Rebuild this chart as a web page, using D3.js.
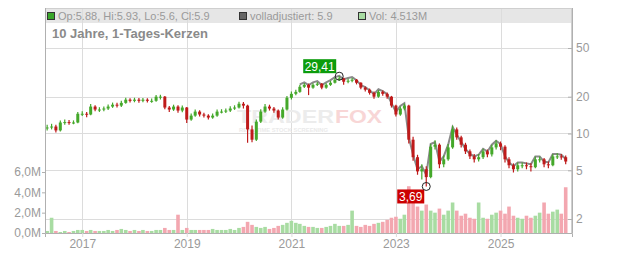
<!DOCTYPE html>
<html>
<head>
<meta charset="utf-8">
<script src="https://cdn.jsdelivr.net/npm/d3@7"></script>
<style>
  body { margin: 0; background: #fff; }
  svg { display: block; font-family: "Liberation Sans", Arial, sans-serif; }
</style>
</head>
<body>
<script>
// monthly candles, May 2016 .. Apr 2026
var months = d3.timeMonth.range(new Date(2016, 4, 1), new Date(2026, 4, 1));

var closes = [
  11.2, 11.4, 10.6, 12.3, 12.4, 12.3, 12.3, 14.5,
  14.5, 14.3, 16.6, 15.7, 15.7, 16.0, 16.6, 17.2, 16.9, 17.8, 18.9, 18.5,
  18.9, 18.5, 18.9, 18.5, 18.5, 20.0, 20.0, 16.3, 15.7, 16.6, 15.4, 16.3,
  13.0, 14.0, 15.1, 14.3, 14.0, 13.5, 14.0, 15.1, 15.1, 15.4, 16.0, 16.3,
  17.5, 16.9, 10.8, 8.9, 12.5, 15.1, 16.6, 16.0, 15.4, 13.5, 15.7, 19.6,
  21.1, 21.9, 24.1, 25.0, 23.7, 25.0, 25.5, 23.7, 25.0, 26.0, 27.5, 28.2,
  26.5, 27.0, 27.5, 26.0, 23.7, 22.8, 21.5, 20.0, 21.9, 21.1, 20.0, 16.9,
  14.3, 16.0, 16.9, 8.9, 6.4, 4.9, 5.1, 4.4, 7.8, 8.1, 5.6, 6.15,
  7.7, 10.8, 9.3, 8.1, 7.15, 6.5, 6.15, 6.4, 7.15, 6.75, 7.7, 8.3,
  7.8, 6.15, 5.5, 5.1, 5.5, 5.5, 5.4, 5.3, 6.15, 6.15, 5.6, 5.5,
  6.5, 6.5, 6.4, 5.9
];
var highs = [
  11.8, 12.0, 11.8, 12.8, 13.0, 12.9, 12.8, 15.0,
  15.2, 15.0, 17.4, 17.0, 16.4, 16.6, 17.3, 17.9, 17.8, 18.5, 19.6, 19.4,
  19.6, 19.5, 19.5, 19.4, 19.3, 20.6, 20.7, 20.3, 16.8, 17.2, 17.0, 16.9,
  16.5, 14.6, 15.7, 15.5, 14.8, 14.4, 14.6, 15.7, 15.8, 16.0, 16.7, 17.0,
  18.2, 18.1, 17.2, 11.6, 13.0, 15.8, 17.4, 17.2, 16.5, 15.7, 16.4, 20.3,
  22.0, 22.8, 25.0, 25.9, 25.6, 25.8, 26.4, 25.9, 25.8, 26.9, 28.5, 29.41,
  28.6, 28.0, 28.4, 27.9, 26.3, 24.2, 23.3, 22.0, 22.6, 22.5, 21.6, 20.3,
  17.2, 16.6, 17.6, 17.2, 9.4, 6.7, 5.6, 5.4, 8.2, 8.8, 8.3, 6.6,
  8.2, 11.6, 11.2, 9.6, 8.4, 7.4, 6.8, 6.8, 7.5, 7.4, 8.1, 8.8,
  8.6, 8.0, 6.4, 5.7, 5.8, 5.8, 5.8, 5.7, 6.5, 6.5, 6.3, 5.9,
  6.8, 6.9, 6.8, 6.6
];
var lows = [
  10.6, 10.8, 10.2, 10.4, 11.8, 11.8, 11.9, 12.1,
  13.9, 13.6, 14.1, 15.2, 15.0, 15.2, 15.6, 16.2, 16.3, 16.5, 17.5, 17.9,
  18.0, 17.8, 18.0, 17.9, 17.8, 18.2, 19.0, 15.8, 15.0, 15.3, 14.8, 14.9,
  12.2, 12.7, 13.7, 13.8, 13.5, 13.0, 13.2, 13.7, 14.6, 14.7, 15.0, 15.6,
  16.0, 16.0, 8.4, 8.5, 8.7, 12.2, 14.8, 15.4, 14.8, 13.0, 13.2, 15.4,
  19.0, 20.5, 21.5, 23.5, 20.6, 23.2, 24.4, 23.0, 23.2, 24.5, 25.6, 27.0,
  25.0, 25.8, 26.2, 25.2, 23.0, 22.0, 20.8, 19.2, 19.6, 20.4, 19.2, 16.3,
  13.8, 14.0, 15.5, 8.3, 6.0, 4.6, 4.2, 3.69, 4.3, 7.4, 5.2, 5.3,
  6.0, 7.5, 8.9, 7.7, 6.8, 6.2, 5.8, 5.9, 6.2, 6.4, 6.5, 7.4,
  7.3, 5.8, 5.2, 4.8, 4.9, 5.2, 5.1, 4.9, 5.2, 5.8, 5.3, 5.2,
  5.4, 6.2, 6.1, 5.6
];
// "volladjustiert" line, only visible from 2021 on
var adjusted = Array(58).fill(null).concat([
  25.2, 26.2, 24.9, 26.2, 26.8, 24.9, 26.2, 27.3, 28.9, 29.6,
  27.8, 28.4, 28.9, 27.3, 24.9, 23.9, 22.6, 21.0, 23.0, 22.2, 21.0, 17.7,
  15.0, 16.8, 17.7, 9.3, 6.7, 5.1, 5.4, 4.6, 8.2, 8.5, 5.9, 6.5,
  8.1, 11.3, 9.8, 8.5, 7.5, 6.8, 6.5, 6.7, 7.5, 7.1, 8.1, 8.7,
  8.2, 6.5, 5.8, 5.4, 5.8, 5.8, 5.7, 5.6, 6.5, 6.5, 5.9, 5.8,
  6.8, 6.8, 6.7, 6.2
]);
// volume in millions
var volumes = [
  0.2, 1.5, 0.2, 0.1, 0.2, 0.1, 0.2, 0.3,
  0.3, 0.2, 0.3, 0.2, 0.2, 0.2, 0.3, 0.2, 0.3, 0.4, 0.3, 0.2,
  0.3, 0.2, 0.3, 0.2, 0.2, 0.3, 0.3, 0.5, 0.3, 0.3, 1.8, 0.3,
  0.5, 0.3, 0.3, 0.3, 0.3, 0.3, 0.4, 0.3, 0.3, 0.3, 0.4, 0.3,
  0.5, 0.6, 1.1, 0.8, 0.6, 0.5, 0.6, 0.4, 0.5, 0.7, 0.8, 1.0,
  1.2, 1.0, 0.9, 0.7, 0.6, 0.6, 0.5, 0.5, 0.6, 0.7, 0.9, 0.7,
  0.7, 0.8, 2.2, 0.7, 0.6, 0.8, 0.7, 0.9, 1.0, 1.1, 1.3, 1.5,
  1.6, 1.4, 1.8, 4.6, 3.0, 2.6, 2.2, 2.8, 2.2, 2.0, 2.4, 1.8,
  2.2, 3.0, 2.2, 1.7, 1.9, 1.5, 1.4, 3.0, 1.5, 1.4, 1.8, 2.0,
  2.2, 1.9, 2.6, 1.7, 1.5, 1.4, 1.7, 1.5, 1.7, 2.0, 3.0, 1.9,
  2.1, 2.3, 1.9, 4.5
];
var firstOpen = 11.0;
var priceTicks = [2, 5, 10, 20, 50];
var volTicks = [0, 2, 4, 6];
var yearTicks = [2017, 2019, 2021, 2023, 2025];
var legendItems = [
  { label: "Op:5.88, Hi:5.93, Lo:5.6, Cl:5.9", fill: "#3aa62a", x: 47 },
  { label: "volladjustiert: 5.9", fill: "#666", x: 239 },
  { label: "Vol: 4.513M", fill: "#a8dca2", x: 358 }
];

var data = months.map(function (d, i) {
  return {
    date: d,
    open: i === 0 ? firstOpen : closes[i - 1],
    high: highs[i], low: lows[i], close: closes[i],
    adj: adjusted[i], vol: volumes[i]
  };
});

var W = 632, H = 253;
var L = 45, R = 572, T = 8, B = 233;

var svg = d3.select("body").append("svg").attr("width", W).attr("height", H);

var x = d3.scaleTime()
  .domain([new Date(2016, 3, 16), new Date(2026, 4, 15)])
  .range([L, R]);
var y = d3.scaleLog().domain([2, 50]).range([219, 48]);
var yv = d3.scaleLinear().domain([0, 6]).range([B, 172]);

// legend band
svg.append("rect").attr("x", L).attr("y", T).attr("width", R - L).attr("height", 15)
  .attr("fill", "#e6e6e6");

// grid
svg.append("g").selectAll("line").data(yearTicks).enter().append("line")
  .attr("x1", function (d) { return Math.round(x(new Date(d, 0, 1))) + 0.5; })
  .attr("x2", function (d) { return Math.round(x(new Date(d, 0, 1))) + 0.5; })
  .attr("y1", T).attr("y2", B)
  .attr("stroke", "#dcdcdc");
svg.append("g").selectAll("line").data(priceTicks).enter().append("line")
  .attr("x1", L).attr("x2", R)
  .attr("y1", function (d) { return Math.round(y(d)) + 0.5; })
  .attr("y2", function (d) { return Math.round(y(d)) + 0.5; })
  .attr("stroke", "#dcdcdc");

// watermark
var wm = svg.append("g");
wm.append("text").attr("x", 237).attr("y", 123).text("TRADER")
  .attr("font-size", 18).attr("font-weight", "bold").attr("fill", "#ececec")
  .attr("textLength", 97).attr("lengthAdjust", "spacingAndGlyphs");
wm.append("text").attr("x", 335).attr("y", 123).text("FOX")
  .attr("font-size", 18).attr("font-weight", "bold").attr("fill", "#f8d6d6")
  .attr("textLength", 47).attr("lengthAdjust", "spacingAndGlyphs");
wm.append("text").attr("x", 239).attr("y", 132).text("REAL TIME STOCK SCREENING")
  .attr("font-size", 6).attr("font-weight", "bold").attr("fill", "#eaeaea")
  .attr("textLength", 89).attr("lengthAdjust", "spacingAndGlyphs");

// volume bars
var bw = 3.6;
svg.append("g").selectAll("rect").data(data).enter().append("rect")
  .attr("x", function (d) { return x(d.date) - bw / 2; })
  .attr("width", bw)
  .attr("y", function (d) { return yv(d.vol); })
  .attr("height", function (d) { return B - yv(d.vol); })
  .attr("fill", function (d) { return d.close >= d.open ? "#a8dca2" : "#f3a7b0"; });

// adjusted line
svg.append("path").datum(data)
  .attr("fill", "none").attr("stroke", "#8a8a8a").attr("stroke-width", 2)
  .attr("d", d3.line()
    .defined(function (d) { return d.adj != null; })
    .x(function (d) { return x(d.date); })
    .y(function (d) { return y(d.adj); }));

// candles
var up = "#44a82a", down = "#bf1a1a";
var candle = svg.append("g").selectAll("g").data(data).enter().append("g");
candle.append("line")
  .attr("x1", function (d) { return x(d.date); })
  .attr("x2", function (d) { return x(d.date); })
  .attr("y1", function (d) { return y(d.high); })
  .attr("y2", function (d) { return y(d.low); })
  .attr("stroke", function (d) { return d.close >= d.open ? up : down; })
  .attr("stroke-width", 1.2);
candle.append("rect")
  .attr("x", function (d) { return x(d.date) - 1.5; })
  .attr("width", 3)
  .attr("y", function (d) { return y(Math.max(d.open, d.close)); })
  .attr("height", function (d) {
    return Math.max(1, Math.abs(y(d.open) - y(d.close)));
  })
  .attr("fill", function (d) { return d.close >= d.open ? up : down; });

// frame
svg.append("rect").attr("x", L + 0.5).attr("y", T + 0.5)
  .attr("width", R - L - 1).attr("height", B - T)
  .attr("fill", "none").attr("stroke", "#cfcfcf");

// axes
var axR = svg.append("g").attr("transform", "translate(" + R + ",0)")
  .call(d3.axisRight(y).tickValues(priceTicks).tickFormat(d3.format("d"))
    .tickSize(-4).tickPadding(4));
var axL = svg.append("g").attr("transform", "translate(" + L + ",0)")
  .call(d3.axisLeft(yv).tickValues(volTicks)
    .tickFormat(function (d) { return d.toFixed(1).replace(".", ",") + "M"; })
    .tickSize(3).tickPadding(1));
var axB = svg.append("g").attr("transform", "translate(0," + B + ")")
  .call(d3.axisBottom(x)
    .tickValues(yearTicks.map(function (d) { return new Date(d, 0, 1); }))
    .tickFormat(d3.timeFormat("%Y")).tickSize(4).tickPadding(2));
[axR, axL, axB].forEach(function (g) {
  g.select(".domain").attr("stroke", "#b0b0b0");
  g.selectAll(".tick line").attr("stroke", "#b0b0b0");
  g.selectAll("text").attr("fill", "#9a9a9a").attr("font-size", 12)
    .attr("font-family", "Liberation Sans, Arial, sans-serif");
});
axR.select(".domain").attr("d", "M0.5," + T + "V" + B);
axL.select(".domain").attr("d", "M0.5," + T + "V" + B);
axB.selectAll(".tick line").attr("stroke", "#dcdcdc");

// legend
var leg = svg.append("g").selectAll("g").data(legendItems).enter().append("g");
leg.append("rect")
  .attr("x", function (d) { return d.x + 0.5; }).attr("y", 12.5)
  .attr("width", 7).attr("height", 7)
  .attr("fill", function (d) { return d.fill; }).attr("stroke", "#333");
leg.append("text")
  .attr("x", function (d) { return d.x + 11; }).attr("y", 20)
  .attr("font-size", 11).attr("fill", "#9a9a9a")
  .text(function (d) { return d.label; });

svg.append("text").attr("x", 52).attr("y", 38)
  .attr("font-size", 13).attr("font-weight", "bold").attr("fill", "#8a8a8a")
  .text("10 Jahre, 1-Tages-Kerzen");

// high / low markers
var hi = data[d3.maxIndex(data, function (d) { return d.high; })];
var lo = data[d3.minIndex(data, function (d) { return d.low; })];
var fmt = function (v) { return v.toFixed(2).replace(".", ","); };

function marker(d, v, dx, dy, w, color) {
  var cx = x(d.date), cy = y(v);
  svg.append("rect").attr("x", cx + dx).attr("y", cy + dy)
    .attr("width", w).attr("height", 14).attr("fill", color);
  svg.append("text").attr("x", cx + dx + w / 2).attr("y", cy + dy + 11.5)
    .attr("text-anchor", "middle").attr("font-size", 12).attr("fill", "#fff")
    .text(fmt(v));
  svg.append("circle").attr("cx", cx).attr("cy", cy).attr("r", 4)
    .attr("fill", "none").attr("stroke", "#222").attr("stroke-width", 1);
}
marker(hi, hi.high, -36, -17, 33, "#0c9c0c");
marker(lo, lo.low, -29, 3, 27, "#cc0000");
</script>
</body>
</html>
